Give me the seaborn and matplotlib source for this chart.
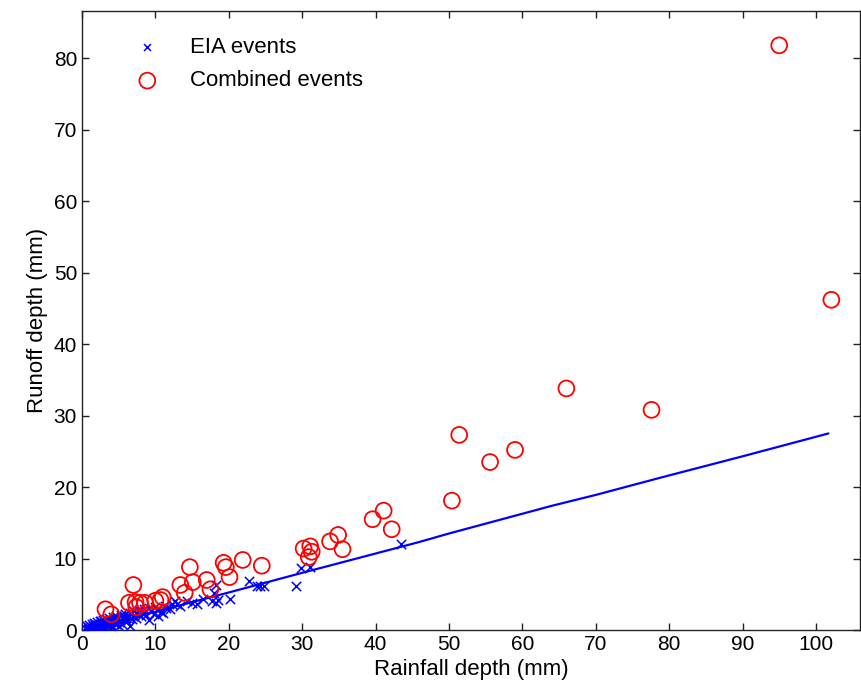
import numpy as np
import pandas as pd
from matplotlib import pyplot as plt
import seaborn as sns

# EIA events (rainfall mm, runoff mm)
eia_rain = [0.6, 0.8, 0.9, 1.0, 1.1, 1.2, 1.3, 1.4, 1.5, 1.6, 1.7, 1.8, 1.9, 2.0, 2.1,
            2.2, 2.3, 2.4, 2.5, 2.6, 2.7, 2.8, 3.0, 3.1, 3.2, 3.4, 3.5, 3.6, 3.8, 4.0,
            4.1, 4.3, 4.5, 4.6, 4.8, 5.0, 5.2, 5.4, 5.6, 5.8, 6.0, 6.2, 6.4, 6.6, 6.8,
            7.0, 7.3, 7.6, 8.0, 8.3, 8.7, 9.1, 9.4, 9.8, 10.2, 10.4, 10.8, 11.1, 11.5,
            12.0, 12.7, 13.4, 14.3, 15.0, 15.7, 16.5, 17.7, 18.0, 18.2, 18.2, 18.6,
            20.2, 22.7, 23.8, 24.3, 24.8, 29.1, 29.8, 31.1, 43.4,
            0.7, 1.0, 1.3, 1.6, 2.0, 2.4, 2.9, 3.3, 3.7, 4.2, 4.7, 5.3, 5.9, 6.5,
            7.1, 7.8, 8.5, 9.2, 10.0, 11.3, 12.3, 13.0, 1.8, 2.6, 3.9, 4.4, 5.1, 5.7]
eia_runoff = [0.1, 0.2, 0.05, 0.3, 0.1, 0.4, 0.2, 0.0, 0.5, 0.3, 0.1, 0.6, 0.4, 0.2, 0.7,
              0.5, 0.3, 0.8, 0.6, 0.1, 0.4, 0.9, 0.7, 0.3, 1.0, 0.8, 0.5, 1.1, 0.9, 1.2,
              0.6, 1.0, 1.3, 0.8, 1.5, 1.1, 1.4, 0.9, 1.6, 1.3, 1.7, 1.2, 1.9, 0.5, 1.5,
              2.0, 1.7, 2.2, 1.9, 2.4, 2.1, 1.4, 2.6, 2.3, 2.8, 1.9, 2.5, 2.4, 3.1,
              2.9, 4.0, 3.4, 4.0, 3.8, 3.7, 4.3, 4.0, 5.2, 3.8, 6.3, 4.2,
              4.4, 6.8, 6.1, 6.1, 6.1, 6.2, 8.7, 8.8, 12.1,
              0.5, 0.7, 0.9, 1.0, 1.1, 1.3, 1.4, 1.5, 1.7, 1.8, 2.0, 2.1, 2.3, 2.4,
              2.6, 2.8, 2.9, 3.1, 3.2, 3.4, 3.6, 3.7, 0.9, 1.2, 0.4, 1.6, 0.6, 2.0]

# Combined events
comb_rain = [3.2, 4.0, 6.4, 7.0, 7.3, 7.4, 7.9, 8.6, 10.0, 10.7, 11.0, 13.4, 14.0, 14.7,
             15.1, 17.0, 17.5, 19.3, 19.6, 20.1, 21.9, 24.5, 30.2, 31.1, 31.3, 30.9,
             33.8, 34.9, 35.5, 39.6, 41.1, 42.2, 50.4, 51.4, 55.6, 59.0, 66.0, 77.6,
             95.0, 102.1]
comb_runoff = [2.9, 2.2, 3.8, 6.3, 3.9, 3.2, 3.8, 3.8, 4.1, 4.2, 4.6, 6.3, 5.2, 8.8,
               6.7, 7.0, 5.7, 9.4, 8.8, 7.4, 9.8, 9.0, 11.4, 11.7, 10.95, 10.2,
               12.4, 13.3, 11.3, 15.5, 16.7, 14.1, 18.1, 27.3, 23.5, 25.2, 33.8, 30.8,
               81.8, 46.2]

# Fitted EIA relationship
fit_rain = [1.0, 10.0, 20.0, 30.0, 40.0, 45.9, 50.0, 64.1, 70.0, 78.4, 90.0, 101.7]
fit_runoff = [0.1, 2.55, 5.25, 8.0, 10.7, 12.3, 13.5, 17.4, 18.9, 21.2, 24.3, 27.5]

sns.set_style('ticks')
plt.rcParams['font.family'] = ['Liberation Sans', 'DejaVu Sans']
plt.rcParams['text.color'] = 'black'
plt.rcParams['axes.labelcolor'] = 'black'
plt.rcParams['xtick.color'] = 'black'
plt.rcParams['ytick.color'] = 'black'

fig = plt.figure(figsize=(8.61, 6.98), dpi=100)
ax = fig.add_axes([0.0952, 0.0974, 0.9036, 0.8868])

df_eia = pd.DataFrame({'rain': eia_rain, 'runoff': eia_runoff})
df_comb = pd.DataFrame({'rain': comb_rain, 'runoff': comb_runoff})
df_fit = pd.DataFrame({'rain': fit_rain, 'runoff': fit_runoff})

sns.scatterplot(data=df_eia, x='rain', y='runoff', marker='x', color='#0000ff',
                s=45, linewidth=1.1, label='EIA events', ax=ax, zorder=3)
sns.scatterplot(data=df_comb, x='rain', y='runoff', marker='o', facecolor='none',
                edgecolor='#ff0000', s=130, linewidth=1.3, label='Combined events',
                ax=ax, zorder=4)
sns.lineplot(data=df_fit, x='rain', y='runoff', color='#0000ff', linewidth=1.6,
             ax=ax, zorder=2)

ax.set_xlim(0, 106)
ax.set_ylim(0, 86.6)
ax.set_xticks(np.arange(0, 101, 10))
ax.set_yticks(np.arange(0, 81, 10))
ax.tick_params(direction='in', length=5, width=1, labelsize=15, top=True, right=True,
               color='#222222', labelcolor='black')
for sp in ax.spines.values():
    sp.set_visible(True)
    sp.set_linewidth(1.0)
    sp.set_color('#222222')
ax.set_xlabel('Rainfall depth (mm)', fontsize=16)
ax.set_ylabel('Runoff depth (mm)', fontsize=16)

leg = ax.legend(loc='upper left', bbox_to_anchor=(0.044, 0.972), frameon=False,
                fontsize=16, handletextpad=0.93, borderaxespad=0, labelspacing=0.55)
leg.legend_handles[0].set_sizes([25])

fig.savefig('out.png', dpi=100)
